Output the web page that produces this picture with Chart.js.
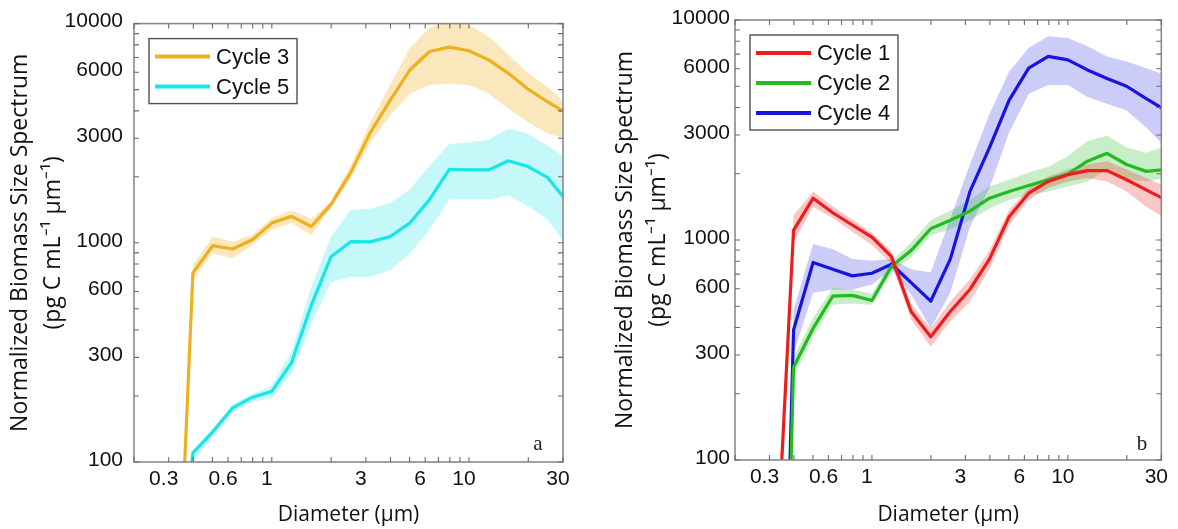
<!DOCTYPE html>
<html><head><meta charset="utf-8">
<script src="https://cdn.jsdelivr.net/npm/chart.js@4.4.0/dist/chart.umd.min.js"></script>
<style>
html,body{margin:0;padding:0;background:#fff;}
#wrap{position:relative;width:1178px;height:529px;overflow:hidden;background:#fff;}
canvas{position:absolute;top:0;}
#ca{left:0;} #cb{left:589px;}
</style></head><body>
<div id="wrap"><canvas id="ca" width="589" height="529"></canvas><canvas id="cb" width="589" height="529"></canvas></div>
<script>
// ---- data ----
const diameters = [0.316,0.398,0.501,0.631,0.794,1.0,1.259,1.585,1.995,2.512,3.162,3.981,5.012,6.31,7.943,10,12.59,15.85,19.95,25.12,31.62];

const cycle3      = [6, 729, 970, 937, 1030, 1230, 1320, 1187, 1493, 2090, 3190, 4467, 6140, 7460, 7810, 7520, 6830, 5930, 5020, 4390, 3880];
const cycle3Upper = [7, 791, 1067, 1012, 1086, 1297, 1406, 1283, 1549, 2244, 3548, 5240, 7727, 9550, 10400, 9890, 8740, 7200, 5930, 5140, 4240];
const cycle3Lower = [5, 675, 895, 849, 977, 1147, 1230, 1086, 1442, 1947, 2871, 3811, 4797, 5240, 5330, 5240, 4800, 4090, 3548, 3140, 2980];

const cycle5      = [20, 110, 137, 176, 197, 210, 284, 518, 863, 1012, 1010, 1067, 1230, 1574, 2163, 2150, 2150, 2366, 2228, 1982, 1530];
const cycle5Upper = [22, 113, 142, 183, 204, 223, 320, 628, 1067, 1416, 1430, 1520, 1750, 2244, 2825, 2870, 2950, 3311, 3140, 2773, 2405];
const cycle5Lower = [18, 100, 131, 169, 188, 196, 254, 426, 662, 698, 698, 750, 895, 1146, 1574, 1574, 1574, 1643, 1468, 1274, 960];

const cycle1      = [20, 1106, 1549, 1330, 1170, 1030, 840, 473, 363, 473, 596, 819, 1274, 1632, 1846, 1982, 2067, 2067, 1879, 1690, 1520];
const cycle1Upper = [22, 1297, 1660, 1420, 1240, 1080, 890, 510, 397, 526, 662, 895, 1368, 1722, 1946, 2090, 2204, 2282, 2090, 1915, 1750];
const cycle1Lower = [18, 977, 1416, 1260, 1090, 950, 780, 436, 327, 426, 526, 736, 1167, 1520, 1722, 1846, 1915, 1846, 1660, 1416, 1250];

const cycle2      = [0.1, 264, 397, 556, 560, 531, 760, 895, 1125, 1230, 1353, 1549, 1660, 1770, 1879, 1995, 2282, 2477, 2204, 2051, 2090];
const cycle2Upper = [0.12, 294, 442, 607, 595, 570, 800, 977, 1230, 1360, 1520, 1750, 1880, 2025, 2150, 2405, 2820, 2974, 2630, 2490, 2680];
const cycle2Lower = [0.08, 238, 363, 508, 515, 508, 710, 834, 1050, 1118, 1230, 1390, 1520, 1600, 1660, 1750, 1846, 2090, 1879, 1846, 1915];

const cycle4      = [0.2, 390, 791, 736, 687, 706, 776, 640, 527, 819, 1660, 2630, 4315, 6040, 6830, 6590, 5930, 5420, 5000, 4390, 3880];
const cycle4Upper = [0.25, 482, 960, 910, 819, 805, 819, 736, 711, 1250, 2204, 3741, 5820, 7460, 8440, 8290, 7590, 6830, 6470, 6040, 5620];
const cycle4Lower = [0.15, 305, 575, 596, 596, 628, 736, 565, 397, 575, 1146, 1722, 3080, 4624, 5060, 5060, 4467, 4160, 3880, 3250, 2630];

const xTicks = [0.2,0.3,0.4,0.5,0.6,0.7,0.8,0.9,1,2,3,4,5,6,7,8,9,10,20,30];
const xLabelled = [0.3,0.6,1,3,6,10,30];
const yTicks = [100,200,300,400,500,600,700,800,900,1000,2000,3000,4000,5000,6000,7000,8000,9000,10000];
const yLabelled = [100,300,600,1000,3000,6000,10000];

const xTitle = 'Diameter (µm)';
const yTitle = ['Normalized Biomass Size Spectrum', '(pg C mL⁻¹ µm⁻¹)'];

// ---- helpers ----
function pts(vals){ return diameters.map((d,i)=>({x:d, y:vals[i]})); }
function rgba(hex,a){ const n=parseInt(hex.slice(1),16); return `rgba(${n>>16&255},${n>>8&255},${n&255},${a})`; }

function buildDatasets(series){
  const ds=[];
  series.forEach(s=>{
    ds.push({data:pts(s.upper), isBand:true, fill:'+1', backgroundColor:rgba(s.color,s.alpha), borderWidth:0, pointRadius:0, order:2});
    ds.push({data:pts(s.lower), isBand:true, fill:false, borderWidth:0, pointRadius:0, order:2});
  });
  series.forEach(s=>{
    ds.push({label:s.label, data:pts(s.values), borderColor:s.color, borderWidth:3.2, fill:false, pointRadius:0, tension:0, order:1, borderJoinStyle:'round'});
  });
  return ds;
}

const framePlugin = {
  id:'frame',
  afterDatasetsDraw(chart, args, o){
    const {ctx, chartArea:a, scales:{x,y}} = chart;
    ctx.save();
    ctx.strokeStyle='#8a8a8a'; ctx.lineWidth=1.6;
    ctx.strokeRect(a.left, a.top, a.right-a.left, a.bottom-a.top);
    ctx.lineWidth=1.1; ctx.strokeStyle='#6a6a6a';
    ctx.beginPath();
    x.ticks.forEach(t=>{ const p=x.getPixelForValue(t.value); ctx.moveTo(p,a.bottom); ctx.lineTo(p,a.bottom-5); ctx.moveTo(p,a.top); ctx.lineTo(p,a.top+5); });
    y.ticks.forEach(t=>{ const p=y.getPixelForValue(t.value); ctx.moveTo(a.left,p); ctx.lineTo(a.left+5,p); ctx.moveTo(a.right,p); ctx.lineTo(a.right-5,p); });
    ctx.stroke();
    // legend
    const items = chart.data.datasets.filter(d=>!d.isBand);
    const bx=a.left+15, by=a.top+15, bw=148, bh=35+(items.length-1)*30;
    ctx.fillStyle='#fff'; ctx.fillRect(bx,by,bw,bh);
    ctx.strokeStyle='#505050'; ctx.lineWidth=1.4; ctx.strokeRect(bx,by,bw,bh);
    ctx.font='22px "Liberation Sans", Arial, sans-serif'; ctx.textBaseline='middle'; ctx.textAlign='left';
    items.forEach((d,i)=>{
      const yy=by+18+i*30;
      ctx.strokeStyle=d.borderColor; ctx.lineWidth=4; ctx.beginPath(); ctx.moveTo(bx+6,yy); ctx.lineTo(bx+61,yy); ctx.stroke();
      ctx.fillStyle='#111'; ctx.fillText(d.label, bx+67, yy+1);
    });
    // panel letter
    ctx.font='21px "Liberation Serif", "Times New Roman", serif'; ctx.textAlign='center'; ctx.textBaseline='alphabetic';
    ctx.fillStyle='#222'; ctx.fillText(o.letter, o.lx, 450);
    ctx.restore();
  }
};

function makeChart(id, series, cfg){
  return new Chart(document.getElementById(id), {
    type:'line',
    data:{datasets:buildDatasets(series)},
    options:{
      responsive:false, animation:false, devicePixelRatio:1,
      layout:{padding:{left:0, right:cfg.padRight, top:cfg.padTop, bottom:0}},
      plugins:{legend:{display:false}, tooltip:{enabled:false}, frame:{letter:cfg.letter, lx:cfg.lx}},
      scales:{
        x:{type:'logarithmic', position:'bottom', min:0.2, max:30, bounds:'data',
           grid:{display:false, drawTicks:false}, border:{display:false},
           afterBuildTicks:s=>{ s.ticks = xTicks.map(v=>({value:v})); },
           afterFit:s=>{ s.height = cfg.xHeight; },
           ticks:{autoSkip:false, maxRotation:0, minRotation:0, padding:5, labelOffset:-5, color:'#111',
                  font:{family:'Liberation Sans', size:21},
                  callback:(v)=> xLabelled.includes(v) ? String(v) : ''},
           title:{display:true, text:xTitle, color:'#111', font:{family:'Open Sans', size:21}, padding:{top:0,bottom:1}}
        },
        y:{type:'logarithmic', position:'left', min:100, max:10000, bounds:'data',
           grid:{display:false, drawTicks:false}, border:{display:false},
           afterBuildTicks:s=>{ s.ticks = yTicks.map(v=>({value:v})); },
           afterFit:s=>{ s.width = cfg.yWidth; },
           ticks:{autoSkip:false, padding:cfg.yTickPad, labelOffset:-2, color:'#111',
                  font:{family:'Liberation Sans', size:21},
                  callback:(v)=> yLabelled.includes(v) ? String(v) : ''},
           title:{display:true, text:yTitle, color:'#111', font:{family:'Open Sans', size:23, lineHeight:1.435}, padding:{top:cfg.yTitlePad, bottom:0}}
        }
      }
    },
    plugins:[framePlugin]
  });
}

makeChart('ca', [
  {label:'Cycle 3', color:'#EDB120', alpha:0.3, values:cycle3, upper:cycle3Upper, lower:cycle3Lower},
  {label:'Cycle 5', color:'#19E6E6', alpha:0.25, values:cycle5, upper:cycle5Upper, lower:cycle5Lower}
], {padRight:26, padTop:22, xHeight:67, yWidth:134, yTickPad:11, yTitlePad:3.5, letter:'a', lx:538});

makeChart('cb', [
  {label:'Cycle 1', color:'#EE1C1C', alpha:0.25, values:cycle1, upper:cycle1Upper, lower:cycle1Lower},
  {label:'Cycle 2', color:'#22BB22', alpha:0.25, values:cycle2, upper:cycle2Upper, lower:cycle2Lower},
  {label:'Cycle 4', color:'#1515DD', alpha:0.22, values:cycle4, upper:cycle4Upper, lower:cycle4Lower}
], {padRight:15, padTop:20, xHeight:69, yWidth:146, yTickPad:5, yTitlePad:20, letter:'b', lx:553});
</script>
</body></html>
